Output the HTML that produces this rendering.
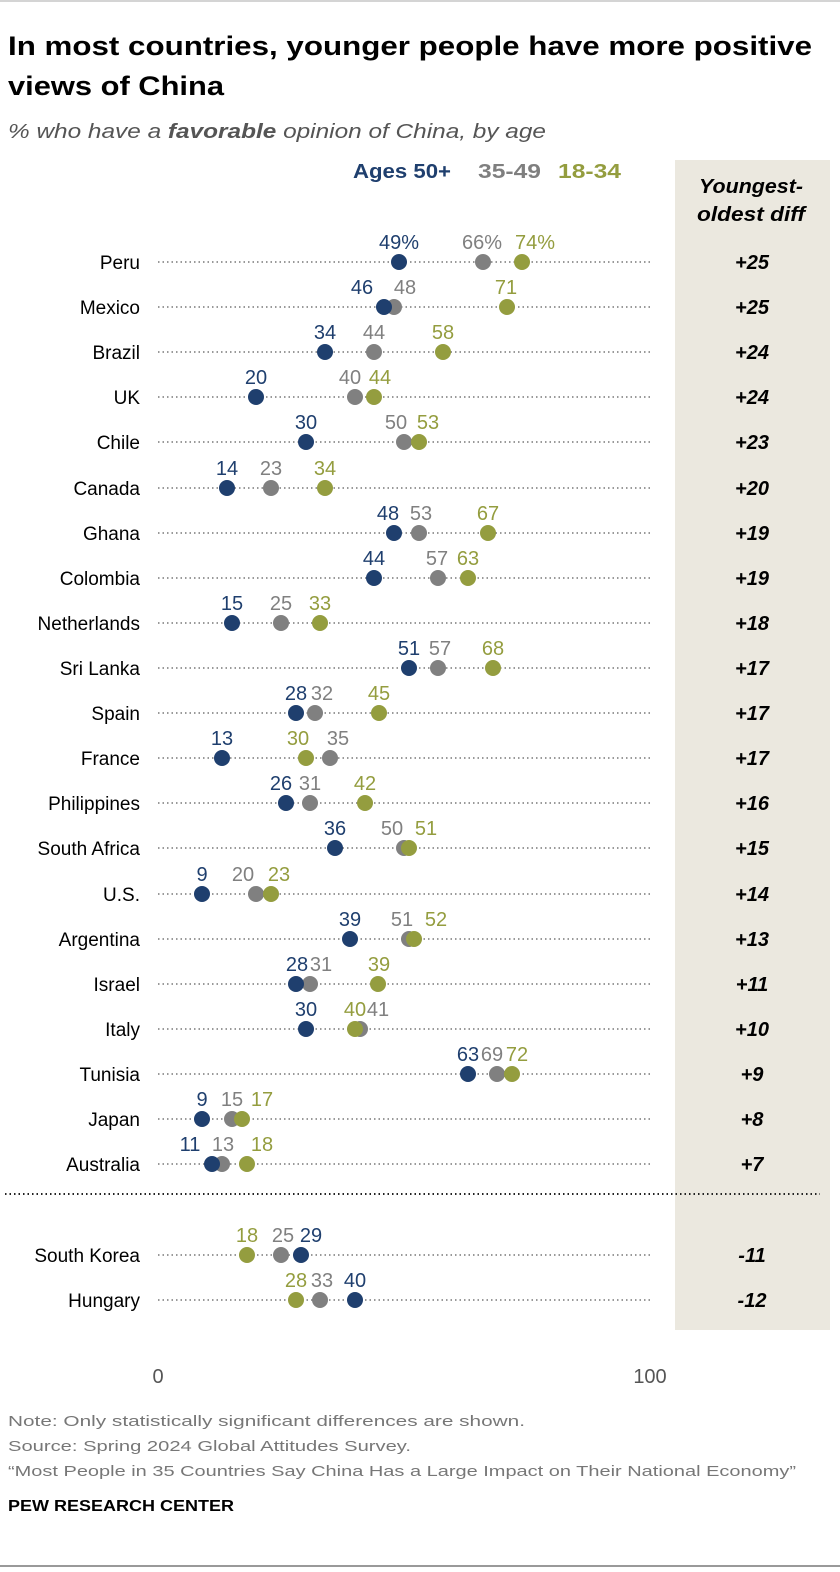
<!DOCTYPE html>
<html><head><meta charset="utf-8"><style>
body{margin:0;background:#fff}
svg{display:block;font-family:"Liberation Sans",sans-serif}
</style></head><body>
<svg width="840" height="1572" viewBox="0 0 840 1572" xmlns="http://www.w3.org/2000/svg">
<line x1="0" y1="1" x2="840" y2="1" stroke="#aaa" stroke-width="1"/>
<text x="8" y="55" font-size="27" font-weight="bold" fill="#000" textLength="804" lengthAdjust="spacingAndGlyphs">In most countries, younger people have more positive</text>
<text x="8" y="95" font-size="27" font-weight="bold" fill="#000" textLength="216" lengthAdjust="spacingAndGlyphs">views of China</text>
<text x="8" y="138" font-size="20" font-style="italic" fill="#555" textLength="538" lengthAdjust="spacingAndGlyphs">% who have a <tspan font-weight="bold">favorable</tspan> opinion of China, by age</text>
<rect x="675" y="160" width="155" height="1170" fill="#ebe8df"/>
<text x="751" y="193" font-size="20" font-weight="bold" font-style="italic" text-anchor="middle" textLength="104" lengthAdjust="spacingAndGlyphs">Youngest-</text>
<text x="751" y="221" font-size="20" font-weight="bold" font-style="italic" text-anchor="middle" textLength="108" lengthAdjust="spacingAndGlyphs">oldest diff</text>
<text x="353" y="178" font-size="20" font-weight="bold" fill="#1f3f6e" textLength="98" lengthAdjust="spacingAndGlyphs">Ages 50+</text>
<text x="478" y="178" font-size="20" font-weight="bold" fill="#7f7f7f" textLength="63" lengthAdjust="spacingAndGlyphs">35-49</text>
<text x="558" y="178" font-size="20" font-weight="bold" fill="#949d3f" textLength="63" lengthAdjust="spacingAndGlyphs">18-34</text>
<line x1="5" y1="1194" x2="820" y2="1194" stroke="#222" stroke-width="2" stroke-dasharray="1.5 3"/>
<text x="158" y="1383" font-size="20" fill="#555" text-anchor="middle">0</text>
<text x="650" y="1383" font-size="20" fill="#555" text-anchor="middle">100</text>
<g id="rows"></g>
<text x="8" y="1426" font-size="15" fill="#777" textLength="517" lengthAdjust="spacingAndGlyphs">Note: Only statistically significant differences are shown.</text>
<text x="8" y="1451" font-size="15" fill="#777" textLength="403" lengthAdjust="spacingAndGlyphs">Source: Spring 2024 Global Attitudes Survey.</text>
<text x="8" y="1476" font-size="15" fill="#777" textLength="788" lengthAdjust="spacingAndGlyphs">“Most People in 35 Countries Say China Has a Large Impact on Their National Economy”</text>
<text x="8" y="1511" font-size="16" font-weight="bold" fill="#000" textLength="226" lengthAdjust="spacingAndGlyphs">PEW RESEARCH CENTER</text>
<line x1="0" y1="1566" x2="840" y2="1566" stroke="#999" stroke-width="2"/>
</svg>
<script>
var B="#1f3f6e",G="#808080",O="#949d3f";
var d=[
["Peru",262,"+25",[["66%",483,482,G],["74%",522,535,O],["49%",399,399,B]]],
["Mexico",307,"+25",[["48",394,405,G],["71",507,506,O],["46",384,362,B]]],
["Brazil",352,"+24",[["44",374,374,G],["58",443,443,O],["34",325,325,B]]],
["UK",397,"+24",[["40",355,350,G],["44",374,380,O],["20",256,256,B]]],
["Chile",442,"+23",[["50",404,396,G],["53",419,428,O],["30",306,306,B]]],
["Canada",488,"+20",[["23",271,271,G],["34",325,325,O],["14",227,227,B]]],
["Ghana",533,"+19",[["53",419,421,G],["67",488,488,O],["48",394,388,B]]],
["Colombia",578,"+19",[["57",438,437,G],["63",468,468,O],["44",374,374,B]]],
["Netherlands",623,"+18",[["25",281,281,G],["33",320,320,O],["15",232,232,B]]],
["Sri Lanka",668,"+17",[["57",438,440,G],["68",493,493,O],["51",409,409,B]]],
["Spain",713,"+17",[["32",315,322,G],["45",379,379,O],["28",296,296,B]]],
["France",758,"+17",[["35",330,338,G],["30",306,298,O],["13",222,222,B]]],
["Philippines",803,"+16",[["31",310,310,G],["42",365,365,O],["26",286,281,B]]],
["South Africa",848,"+15",[["50",404,392,G],["51",409,426,O],["36",335,335,B]]],
["U.S.",894,"+14",[["20",256,243,G],["23",271,279,O],["9",202,202,B]]],
["Argentina",939,"+13",[["51",409,402,G],["52",414,436,O],["39",350,350,B]]],
["Israel",984,"+11",[["31",310,321,G],["39",378,379,O],["28",296,297,B]]],
["Italy",1029,"+10",[["41",360,378,G],["40",355,355,O],["30",306,306,B]]],
["Tunisia",1074,"+9",[["69",497,492,G],["72",512,517,O],["63",468,468,B]]],
["Japan",1119,"+8",[["15",232,232,G],["17",242,262,O],["9",202,202,B]]],
["Australia",1164,"+7",[["13",222,223,G],["18",247,262,O],["11",212,190,B]]],
["South Korea",1255,"-11",[["25",281,283,G],["18",247,247,O],["29",301,311,B]]],
["Hungary",1300,"-12",[["33",320,322,G],["28",296,296,O],["40",355,355,B]]]
];
var ns="http://www.w3.org/2000/svg",g=document.getElementById("rows");
function el(t,a,txt){var e=document.createElementNS(ns,t);for(var k in a)e.setAttribute(k,a[k]);if(txt!=null)e.textContent=txt;g.appendChild(e);return e;}
d.forEach(function(r){
 var y=r[1];
 el("text",{x:140,y:y+7,"font-size":19,"text-anchor":"end",fill:"#000"},r[0]);
 el("line",{x1:158,y1:y,x2:650,y2:y,stroke:"#999","stroke-width":2,"stroke-dasharray":"1.5 3"});
 r[3].forEach(function(p){el("circle",{cx:p[1],cy:y,r:8,fill:p[3]});});
 r[3].forEach(function(p){el("text",{x:p[2],y:y-13,"font-size":20,"text-anchor":"middle",fill:p[3]},p[0]);});
 el("text",{x:752,y:y+7,"font-size":20,"font-weight":"bold","font-style":"italic","text-anchor":"middle",fill:"#000"},r[2]);
});
</script>
</body></html>
